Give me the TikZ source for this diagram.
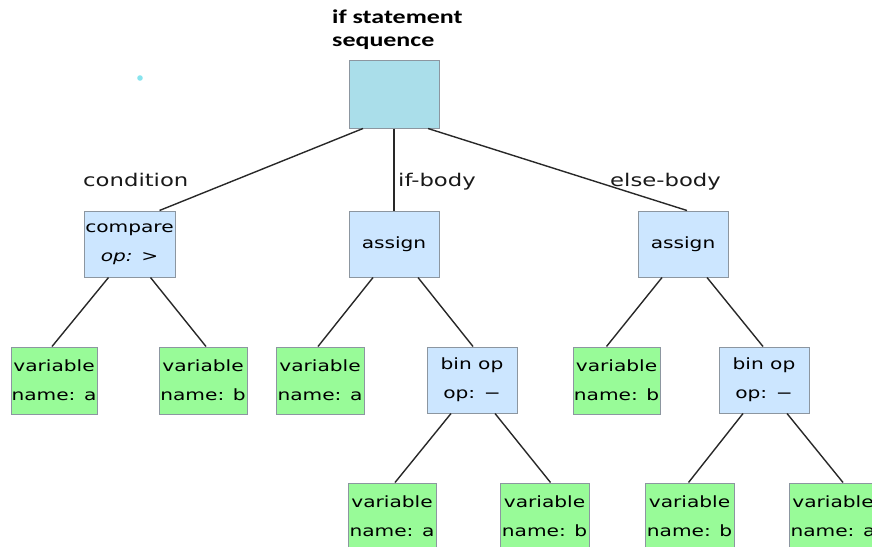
\documentclass[tikz,border=0pt]{standalone}
\usepackage{fontspec}
\setmainfont{DejaVu Sans}[FakeStretch=1.3]
\newfontfamily\titlefont{Carlito}[FakeStretch=1.33]
\usetikzlibrary{calc}
\definecolor{rootfill}{RGB}{170,222,234}
\definecolor{bluefill}{RGB}{204,230,255}
\definecolor{greenfill}{RGB}{152,251,152}
\definecolor{boxline}{RGB}{140,150,160}
\definecolor{edgecol}{RGB}{40,40,40}
\tikzset{
  box/.style={draw=boxline, line width=1pt, inner sep=0pt, align=center,
    font=\fontsize{15.5}{29}\selectfont, text=black},
  rootbox/.style={box, fill=rootfill, minimum width=90pt, minimum height=68pt},
  opbox/.style={box, fill=bluefill, minimum width=90pt, minimum height=66pt},
  leaf/.style={box, fill=greenfill, minimum width=88pt, minimum height=67pt},
  edge/.style={draw=edgecol, line width=1.4pt},
  elabel/.style={font=\fontsize{17.5}{20}\selectfont, text=black!90, inner sep=0pt, anchor=base west}
}
\begin{document}
\begin{tikzpicture}[x=1pt,y=-1pt]
\useasboundingbox (0,0) rectangle (872,546);
% title
\node[anchor=north west, inner sep=0pt, align=left, font=\titlefont\bfseries\fontsize{19.5}{23}\selectfont] (title) at (332,10) {if statement\\sequence};
\fill[rootfill!80!cyan] (140,78) circle (2.8pt);
% nodes
\node[rootbox] (root) at (394,94) {};
\node[opbox, minimum width=91pt] (cmp) at (129.5,244) {compare\\\textit{op: >}};
\node[opbox] (asg1) at (394,244) {assign};
\node[opbox] (asg2) at (683,244) {assign};
\node[leaf, minimum width=86pt] (v1) at (54,380.5) {variable\\name: a};
\node[leaf] (v2) at (203,380.5) {variable\\name: b};
\node[leaf] (v3) at (320,380.5) {variable\\name: a};
\node[opbox] (bin1) at (472,380) {bin op\\op: −};
\node[leaf, minimum width=87pt] (v4) at (616.5,380.5) {variable\\name: b};
\node[opbox] (bin2) at (764,380) {bin op\\op: −};
\node[leaf] (v5) at (392,516.5) {variable\\name: a};
\node[leaf, minimum width=89pt] (v6) at (544.5,516.5) {variable\\name: b};
\node[leaf, minimum width=89pt] (v7) at (689.5,516.5) {variable\\name: b};
\node[leaf] (v8) at (833,516.5) {variable\\name: a};
% edges
\draw[edge] ([xshift=-31pt]root.south) -- ([xshift=30pt]cmp.north);
\draw[edge] (root.south) -- (asg1.north);
\draw[edge] ([xshift=34pt]root.south) -- ([xshift=4pt]asg2.north);
\draw[edge] ([xshift=-21pt]cmp.south) -- ([xshift=-2pt]v1.north);
\draw[edge] ([xshift=21pt]cmp.south) -- ([xshift=3pt]v2.north);
\draw[edge] ([xshift=-21pt]asg1.south) -- ([xshift=-2pt]v3.north);
\draw[edge] ([xshift=24pt]asg1.south) -- ([xshift=1pt]bin1.north);
\draw[edge] ([xshift=-21pt]asg2.south) -- ([xshift=-10pt]v4.north);
\draw[edge] ([xshift=24pt]asg2.south) -- ([xshift=-1pt]bin2.north);
\draw[edge] ([xshift=-21pt]bin1.south) -- ([xshift=3pt]v5.north);
\draw[edge] ([xshift=23pt]bin1.south) -- ([xshift=6pt]v6.north);
\draw[edge] ([xshift=-21pt]bin2.south) -- ([xshift=-1pt]v7.north);
\draw[edge] ([xshift=23pt]bin2.south) -- ([xshift=10pt]v8.north);
% edge labels
\node[elabel] (lcond) at (83,186) {condition};
\node[elabel] (lif) at (398,186) {if-body};
\node[elabel] (lelse) at (610,186) {else-body};
\end{tikzpicture}
\end{document}
